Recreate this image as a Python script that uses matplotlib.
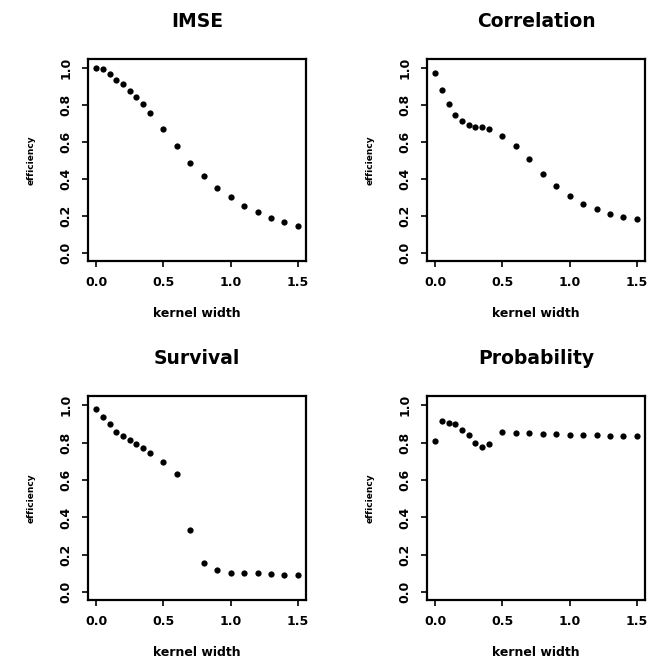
import matplotlib
matplotlib.use("Agg")
import matplotlib.pyplot as plt

plt.rcParams['font.family'] = ['DejaVu Sans']

kernel_width = [0.0, 0.05, 0.1, 0.15, 0.2, 0.25, 0.3, 0.35, 0.4,
                0.5, 0.6, 0.7, 0.8, 0.9, 1.0, 1.1, 1.2, 1.3, 1.4, 1.5]

imse = [1.0, 0.995, 0.968, 0.937, 0.913, 0.877, 0.843, 0.805, 0.759,
        0.671, 0.577, 0.488, 0.416, 0.353, 0.302, 0.257, 0.222, 0.190, 0.168, 0.148]

correlation = [0.976, 0.884, 0.805, 0.745, 0.714, 0.694, 0.685, 0.682, 0.671,
               0.633, 0.577, 0.508, 0.429, 0.362, 0.309, 0.266, 0.237, 0.212, 0.195, 0.186]

survival = [0.979, 0.940, 0.900, 0.859, 0.835, 0.815, 0.794, 0.770, 0.745,
            0.696, 0.633, 0.332, 0.155, 0.118, 0.105, 0.104, 0.100, 0.095, 0.093, 0.090]

probability = [0.807, 0.914, 0.903, 0.898, 0.870, 0.840, 0.801, 0.777, 0.793,
               0.858, 0.854, 0.851, 0.845, 0.845, 0.840, 0.840, 0.840, 0.837, 0.835, 0.835]

titles = ["IMSE", "Correlation", "Survival", "Probability"]
series = [imse, correlation, survival, probability]
xticks = [0.0, 0.5, 1.0, 1.5]
yticks = [0.0, 0.2, 0.4, 0.6, 0.8, 1.0]

W, H = 648, 662
fig = plt.figure(figsize=(W / 100, H / 100), dpi=100)

# axes boxes in pixels: (left, top, right, bottom)
boxes = [(88, 59, 306, 261), (427, 59, 645, 261),
         (88, 396, 306, 600), (427, 396, 645, 600)]

for (l, t, r, b), title, vals in zip(boxes, titles, series):
    ax = fig.add_axes([l / W, 1 - b / H, (r - l) / W, (b - t) / H])
    ax.plot(kernel_width, vals, 'o', color='black', markersize=4.5, markeredgewidth=0)
    ax.set_xlim(-0.06, 1.56)
    ax.set_ylim(-0.042, 1.05)
    ax.set_xticks(xticks)
    ax.set_xticklabels([f"{v:.1f}" for v in xticks], fontsize=9, fontweight='bold')
    ax.set_yticks(yticks)
    ax.set_yticklabels([f"{v:.1f}" for v in yticks], fontsize=9, fontweight='bold',
                       rotation=90, va='center')
    ax.tick_params(direction='out', length=4, width=1.2, pad=7)
    for s in ax.spines.values():
        s.set_linewidth(1.6)
    ax.set_title(title, fontsize=13.5, fontweight='bold', pad=23)
    ax.set_xlabel("kernel width", fontsize=9, fontweight='bold', labelpad=13)
    ax.set_ylabel("efficiency", fontsize=6.5, fontweight='bold')
    ax.yaxis.set_label_coords(-52 / (r - l), 0.5)

fig.savefig("out.png", dpi=100, facecolor='white')
